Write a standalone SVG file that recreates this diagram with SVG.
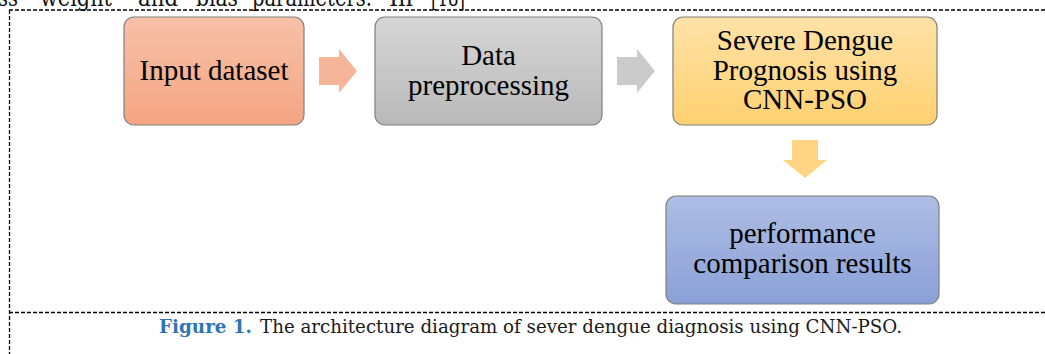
<svg xmlns="http://www.w3.org/2000/svg" width="1045" height="354" viewBox="0 0 1045 354">
  <style>
    .frame { fill: none; stroke: #000; stroke-width: 1.3; stroke-dasharray: 4 2; }
    .box { stroke: #7f7f7f; stroke-width: 1.2; }
    .label { font-family: "Liberation Serif", "Times New Roman", serif; font-size: 29px; fill: #000; text-anchor: middle; }
    .body { font-family: "DejaVu Serif", Georgia, serif; font-size: 24px; fill: #111; }
    .cap { font-family: "DejaVu Serif", Georgia, serif; font-size: 19px; fill: #1a1a1a; }
    .cap-num { font-weight: bold; fill: #2e74b5; }
  </style>
  <defs>
    <linearGradient id="gOrange" x1="0" y1="0" x2="0" y2="1">
      <stop offset="0" stop-color="#f7c1a8"/>
      <stop offset="1" stop-color="#f4a582"/>
    </linearGradient>
    <linearGradient id="gGray" x1="0" y1="0" x2="0" y2="1">
      <stop offset="0" stop-color="#d6d6d6"/>
      <stop offset="1" stop-color="#b9b9b9"/>
    </linearGradient>
    <linearGradient id="gYellow" x1="0" y1="0" x2="0" y2="1">
      <stop offset="0" stop-color="#ffe2a8"/>
      <stop offset="1" stop-color="#ffd170"/>
    </linearGradient>
    <linearGradient id="gBlue" x1="0" y1="0" x2="0" y2="1">
      <stop offset="0" stop-color="#aebde3"/>
      <stop offset="1" stop-color="#8aa0d7"/>
    </linearGradient>
  </defs>

  <!-- running text of the page above the figure (clipped by the page top) -->
  <g id="page-text" class="body">
    <text x="-2" y="6" textLength="20" lengthAdjust="spacingAndGlyphs">ss</text>
    <text x="40" y="6" textLength="72" lengthAdjust="spacingAndGlyphs">weight</text>
    <text x="138" y="6" textLength="40" lengthAdjust="spacingAndGlyphs">and</text>
    <text x="196" y="6" textLength="42" lengthAdjust="spacingAndGlyphs">bias</text>
    <text x="252" y="6" textLength="120" lengthAdjust="spacingAndGlyphs">parameters.</text>
    <text x="389" y="6" textLength="24" lengthAdjust="spacingAndGlyphs">In</text>
    <text x="431" y="6" textLength="34" lengthAdjust="spacingAndGlyphs">[18]</text>
  </g>

  <!-- dashed figure frame -->
  <g id="frame">
    <line class="frame" x1="9" y1="10" x2="1045" y2="10"/>
    <line class="frame" x1="9.5" y1="10" x2="9.5" y2="354"/>
    <line class="frame" x1="9" y1="312.5" x2="1045" y2="312.5"/>
  </g>

  <!-- block arrows between steps -->
  <g id="connectors">
    <polygon points="319,57 339,57 339,49 357,71 339,93 339,85 319,85" fill="#f5b598"/>
    <polygon points="617,57 637,57 637,49 655,71 637,93 637,85 617,85" fill="#cbcbcb"/>
    <polygon points="792,140 818,140 818,160 827,160 805,178 783,160 792,160" fill="#ffd584"/>
  </g>

  <g id="node-input">
    <rect class="box" x="124" y="17" width="180" height="108" rx="10" fill="url(#gOrange)"/>
    <text class="label" x="214" y="80">Input dataset</text>
  </g>

  <g id="node-preprocessing">
    <rect class="box" x="375" y="17" width="227" height="108" rx="10" fill="url(#gGray)"/>
    <text class="label" x="488.5" y="65">Data</text>
    <text class="label" x="488.5" y="95">preprocessing</text>
  </g>

  <g id="node-prognosis">
    <rect class="box" x="673" y="17" width="264" height="108" rx="10" fill="url(#gYellow)"/>
    <text class="label" x="805" y="50">Severe Dengue</text>
    <text class="label" x="805" y="80">Prognosis using</text>
    <text class="label" x="805" y="109">CNN-PSO</text>
  </g>

  <g id="node-results">
    <rect class="box" x="666" y="196" width="273" height="108" rx="10" fill="url(#gBlue)"/>
    <text class="label" x="802.5" y="243">performance</text>
    <text class="label" x="802.5" y="273">comparison results</text>
  </g>

  <!-- figure caption -->
  <g id="caption" class="cap">
    <text x="159" y="333" textLength="93" lengthAdjust="spacingAndGlyphs" class="cap-num">Figure 1.</text>
    <text x="260" y="333" textLength="642" lengthAdjust="spacingAndGlyphs">The architecture diagram of sever dengue diagnosis using CNN-PSO.</text>
  </g>
</svg>
